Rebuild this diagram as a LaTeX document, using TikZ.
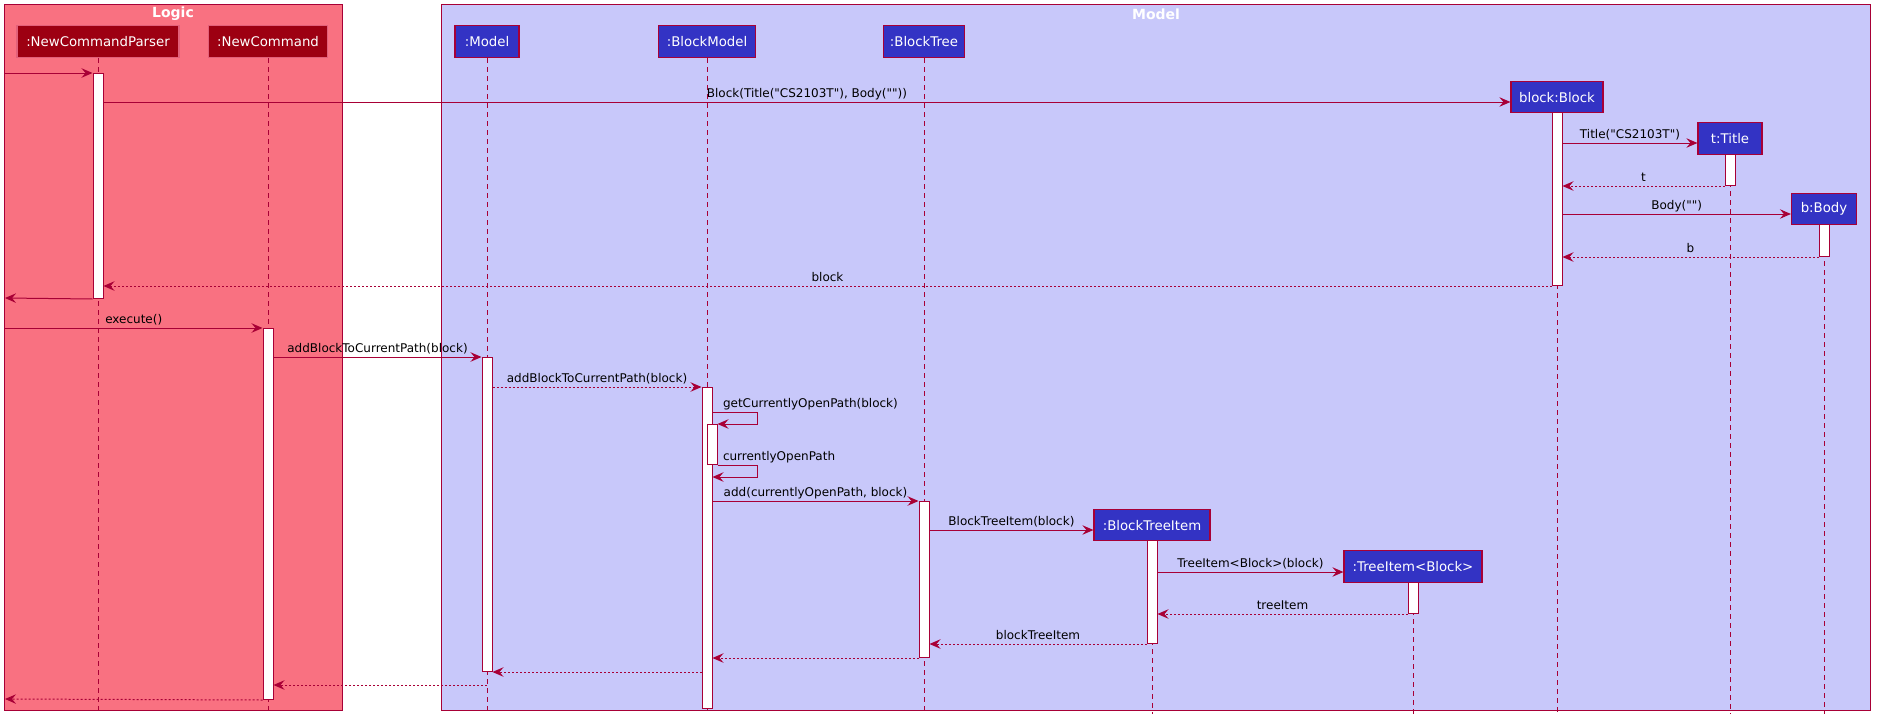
\documentclass[tikz,border=0pt]{standalone}
\usepackage{fontspec}
\setmainfont{DejaVu Sans}
\newfontfamily\plainsans{DejaVu Sans}
\usetikzlibrary{arrows.meta}
\definecolor{crim}{HTML}{A80036}
\definecolor{logicbg}{HTML}{F97181}
\definecolor{modelbg}{HTML}{C8C8FA}
\definecolor{logicbox}{HTML}{9D0012}
\definecolor{logicedge}{HTML}{E2607A}
\definecolor{modelbox}{HTML}{3333C4}
\begin{document}
\begin{tikzpicture}[x=1pt, y=-1pt, >={Stealth[length=11pt,width=9.5pt,inset=4pt]},
  part/.style={draw, line width=1.2pt, text=white, font=\plainsans\fontsize{13.3}{15}\selectfont, minimum height=32pt, inner sep=0pt, anchor=north},
  lpart/.style={part, fill=logicbox, draw=logicedge},
  mpart/.style={part, fill=modelbox, draw=crim},
  act/.style={draw=crim, fill=white, line width=1pt, minimum width=10pt, inner sep=0pt, anchor=north},
  life/.style={crim, line width=1pt, dash pattern=on 5pt off 4pt},
  msg/.style={->, crim, line width=1pt},
  ret/.style={msg, dash pattern=on 2pt off 2pt},
  lbl/.style={font=\plainsans\fontsize{12}{14}\selectfont, text=black, inner sep=0pt, anchor=base, yshift=4.5pt},
  ftitle/.style={font=\plainsans\fontsize{14}{16}\selectfont\bfseries, text=white}]
\useasboundingbox (0,0) rectangle (1880,728);
\filldraw[fill=logicbg, draw=crim, line width=1pt] (4,4) rectangle (342,710);
\filldraw[fill=modelbg, draw=crim, line width=1pt] (441,4) rectangle (1870,710);
\node[ftitle] (logic) at (173,14) {Logic};
\node[ftitle] (model-t) at (1156,14) {Model};

\node[lpart, minimum width=162pt] (ncp) at (98,25) {:NewCommandParser};
\node[lpart, minimum width=119pt] (nc) at (268,25) {:NewCommand};
\node[mpart, minimum width=64pt] (model) at (487,25) {:Model};
\node[mpart, minimum width=97pt] (bm) at (707,25) {:BlockModel};
\node[mpart, minimum width=81pt] (bt) at (924,25) {:BlockTree};
\node[mpart, minimum width=92pt, minimum height=31pt] (blk) at (1557,81) {block:Block};
\node[mpart, minimum width=64pt] (ttl) at (1730,122) {t:Title};
\node[mpart, minimum width=65pt, minimum height=31pt] (body) at (1824,193) {b:Body};
\node[mpart, minimum width=116pt, minimum height=31pt] (bti) at (1152,509) {:BlockTreeItem};
\node[mpart, minimum width=138pt] (ti) at (1413,550) {:TreeItem<Block>};
\foreach \p in {ncp,nc,model,bm,bt,blk,ttl,body,bti,ti}
  \draw[life] (\p.south) -- (\p.south |- 0,714);

\node[act, minimum height=225pt] (a-ncp) at (98,73) {};
\node[act, minimum height=173pt] (a-blk) at (1557,112) {};
\node[act, minimum height=31pt] (a-ttl) at (1730,154) {};
\node[act, minimum height=32pt] (a-body) at (1824,224) {};
\node[act, minimum height=371pt] (a-nc) at (268,328) {};
\node[act, minimum height=314pt] (a-model) at (487,357) {};
\node[act, minimum height=321pt] (a-bm) at (707,387) {};
\node[act, minimum height=40pt] (a-bm2) at (712,424) {};
\node[act, minimum height=156pt] (a-bt) at (924,501) {};
\node[act, minimum height=103pt] (a-bti) at (1152,540) {};
\node[act, minimum height=31pt] (a-ti) at (1413,582) {};

\coordinate (in1) at (5,73);
\coordinate (out1) at (5,298);
\coordinate (in2) at (5,328);
\coordinate (out2) at (5,699);

\draw[msg] (in1) -- (a-ncp.north west);
\draw[msg] (a-ncp.east |- 0,102) -- node[lbl]{Block(Title("CS2103T"), Body(""))} (blk.west |- 0,102);
\draw[msg] (a-blk.east |- 0,143) -- node[lbl]{Title("CS2103T")} (ttl.west |- 0,143);
\draw[ret] (a-ttl.south west) -- node[lbl]{t} (a-blk.east |- a-ttl.south);
\draw[msg] (a-blk.east |- 0,214) -- node[lbl]{Body("")} (body.west |- 0,214);
\draw[ret] (a-body.south west) -- node[lbl]{b} (a-blk.east |- a-body.south);
\draw[ret] (a-blk.south west) -- node[lbl]{block} (a-ncp.east |- a-blk.south);
\draw[msg] (a-ncp.south west) -- (out1);
\draw[msg] (in2) -- node[lbl]{execute()} (a-nc.north west);
\draw[msg] (a-nc.east |- a-model.north) -- node[lbl]{addBlockToCurrentPath(block)} (a-model.north west);
\draw[ret] (a-model.east |- a-bm.north) -- node[lbl]{addBlockToCurrentPath(block)} (a-bm.north west);
\draw[msg] (a-bm.east |- 0,412) -- node[lbl, at start, anchor=base west, xshift=10pt]{getCurrentlyOpenPath(block)} ++(45,0) |- (a-bm2.north east);
\draw[msg] (a-bm2.south east) -- node[lbl, at start, anchor=base west, xshift=5pt]{currentlyOpenPath} ++(40,0) |- (a-bm.east |- 0,477);
\draw[msg] (a-bm.east |- a-bt.north) -- node[lbl]{add(currentlyOpenPath, block)} (a-bt.north west);
\draw[msg] (a-bt.east |- 0,530) -- node[lbl]{BlockTreeItem(block)} (bti.west |- 0,530);
\draw[msg] (a-bti.east |- 0,572) -- node[lbl]{TreeItem<Block>(block)} (ti.west |- 0,572);
\draw[ret] (a-ti.south west) -- node[lbl]{treeItem} (a-bti.east |- a-ti.south);
\draw[ret] (a-bti.south west) -- node[lbl]{blockTreeItem} (a-bt.east |- a-bti.south);
\draw[ret] (a-bt.south west) -- (a-bm.east |- a-bt.south);
\draw[ret] (a-bm.west |- a-model.south) -- (a-model.south east);
\draw[ret] (model |- 0,685) -- (a-nc.east |- 0,685);
\draw[ret] (a-nc.south west) -- (out2);
\end{tikzpicture}
\end{document}
